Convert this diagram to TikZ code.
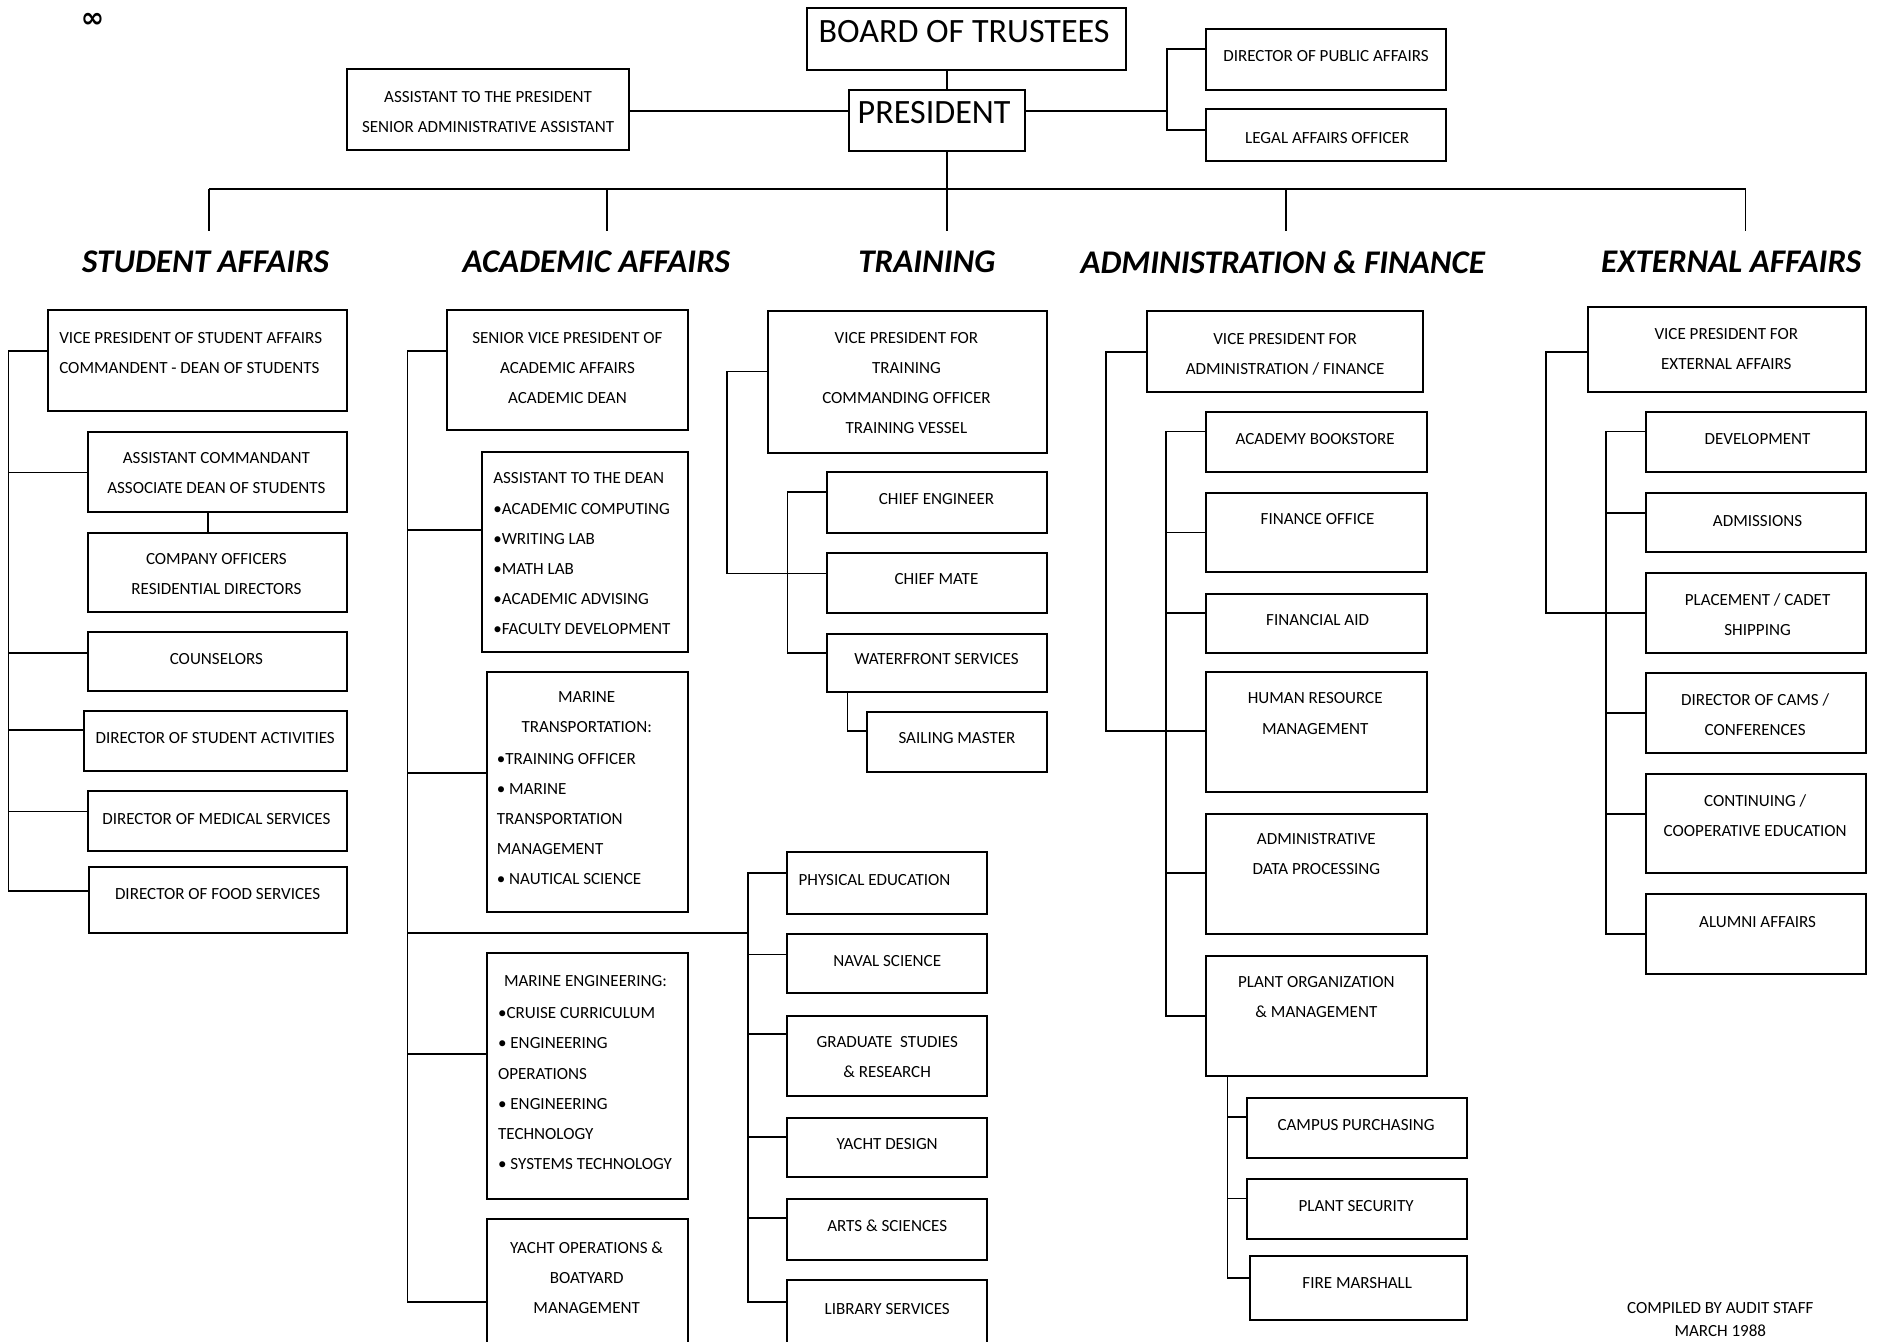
\documentclass[tikz,border=0pt]{standalone}
\usepackage{fontspec}
\setmainfont{Carlito}
\newfontfamily\djv{DejaVu Sans}
\usetikzlibrary{calc}
\tikzset{
  box/.style={draw, line width=1pt, inner sep=0pt, outer sep=0pt},
  lbl/.style={font=\fontsize{8.5}{15}\selectfont, inner sep=0pt, align=center},
  lbll/.style={lbl, align=left},
  big/.style={font=\fontsize{17}{20}\selectfont, inner sep=0pt},
  head/.style={font=\fontsize{16.5}{18}\selectfont\bfseries\itshape, inner sep=0pt},
  conn/.style={line width=0.9pt},
}
\newcommand{\bx}[5]{\node[box, minimum width={(#4-#2)*0.6pt}, minimum height={(#5-#3)*0.6pt}] (#1) at ({(#2+#4)/2},{(#3+#5)/2}) {};}
\begin{document}
\begin{tikzpicture}[x=0.6pt, y=-0.6pt]
\useasboundingbox (0,0) rectangle (1568,1116);
\clip (0,0) rectangle (1568,1116);
\node[font=\djv\bfseries\fontsize{14}{14}\selectfont, inner sep=0pt] (infmark) at (77,17) {∞};
% ---------- top ----------
\bx{board}{671}{7}{937}{58}
\bx{pres}{706}{75}{853}{126}
\bx{asstp}{289}{57}{523}{125}
\bx{dpa}{1003}{24}{1203}{75}
\bx{lao}{1003}{91}{1203}{134}
\node[big] (boardT) at (802,26) {BOARD OF TRUSTEES};
\node[big] (presT) at (777,94) {PRESIDENT};
\node[lbl] (asstpT) at (406,93.5) {ASSISTANT TO THE PRESIDENT\\SENIOR ADMINISTRATIVE ASSISTANT};
\node[lbl] (dpaT) at (1103,47) {DIRECTOR OF PUBLIC AFFAIRS};
\node[lbl] (laoT) at (1104,115) {LEGAL AFFAIRS OFFICER};
\coordinate (tx) at (788,157);
\coordinate (rj) at (971,92);
\coordinate (rj1) at (971,41);
\coordinate (rj2) at (971,108);
\coordinate (lj) at (523,92);
\draw[conn] (tx |- board.south) -- (tx |- pres.north);
\draw[conn] (lj) -- (lj -| pres.west);
\draw[conn] (rj -| pres.east) -- (rj);
\draw[conn] (rj1 -| dpa.west) -- (rj1) -- (rj2) -- (rj2 -| lao.west);
\coordinate (d1) at (174,192);
\coordinate (d2) at (505,192);
\coordinate (d3) at (788,192);
\coordinate (d4) at (1070,192);
\coordinate (d5) at (1452,192);
\draw[conn] (d1 |- tx) -- (d5 |- tx);
\draw[conn] (tx |- pres.south) -- (d3);
\draw[conn] (d1 |- tx) -- (d1);
\draw[conn] (d2 |- tx) -- (d2);
\draw[conn] (d4 |- tx) -- (d4);
\draw[conn] (d5 |- tx) -- (d5);
\node[head] (h1) at (171,218) {STUDENT AFFAIRS};
\node[head] (h2) at (496,218) {ACADEMIC AFFAIRS};
\node[head] (h3) at (771,218) {TRAINING};
\node[head] (h4) at (1067,218) {ADMINISTRATION \& FINANCE};
\node[head] (h5) at (1440,218) {EXTERNAL AFFAIRS};
% ---------- student affairs ----------
\bx{vps}{40}{258}{289}{342}
\bx{acm}{73}{359}{289}{426}
\bx{coff}{73}{443}{289}{509}
\bx{cou}{73}{526}{289}{575}
\bx{dsa}{70}{591}{289}{641}
\bx{dms}{73}{658}{289}{708}
\bx{dfs}{74}{721}{289}{776}
\node[lbll, anchor=west] (vpsT) at (49,293.5) {VICE PRESIDENT OF STUDENT AFFAIRS\\COMMANDENT - DEAN OF STUDENTS};
\node[lbl] (acmT) at (180,393.5) {ASSISTANT COMMANDANT\\ASSOCIATE DEAN OF STUDENTS};
\node[lbl] (coffT) at (180,477.5) {COMPANY OFFICERS\\RESIDENTIAL DIRECTORS};
\node[lbl] (couT) at (180,548) {COUNSELORS};
\node[lbl] (dsaT) at (179,614) {DIRECTOR OF STUDENT ACTIVITIES};
\node[lbl] (dmsT) at (180,681) {DIRECTOR OF MEDICAL SERVICES};
\node[lbl] (dfsT) at (181,744) {DIRECTOR OF FOOD SERVICES};
\coordinate (s1) at (7,292);
\coordinate (s2) at (7,393);
\coordinate (s3) at (7,543);
\coordinate (s4) at (7,607);
\coordinate (s5) at (7,675);
\coordinate (s6) at (7,741);
\draw[conn] (s1 -| vps.west) -- (s1) -- (s6) -- (s6 -| dfs.west);
\draw[conn] (s2) -- (s2 -| acm.west);
\draw[conn] (s3) -- (s3 -| cou.west);
\draw[conn] (s4) -- (s4 -| dsa.west);
\draw[conn] (s5) -- (s5 -| dms.west);
\coordinate (acx) at (173,430);
\draw[conn] (acx |- acm.south) -- (acx |- coff.north);
% ---------- academic affairs ----------
\bx{svp}{372}{258}{572}{358}
\bx{atd}{401}{376}{572}{542}
\bx{mtr}{405}{559}{572}{759}
\bx{men}{405}{793}{572}{997}
\bx{yop}{405}{1014}{572}{1130}
\node[lbl] (svpT) at (472,306) {SENIOR VICE PRESIDENT OF\\ACADEMIC AFFAIRS\\ACADEMIC DEAN};
\node[lbll, anchor=west] (atdT) at (410,460.5) {ASSISTANT TO THE DEAN\\\textbullet ACADEMIC COMPUTING\\\textbullet WRITING LAB\\\textbullet MATH LAB\\\textbullet ACADEMIC ADVISING\\\textbullet FACULTY DEVELOPMENT};
\node[lbl] (mtrA) at (488,592.5) {MARINE\\TRANSPORTATION:};
\node[lbll, anchor=west] (mtrB) at (413,681) {\textbullet TRAINING OFFICER\\\textbullet\ MARINE\\TRANSPORTATION\\MANAGEMENT\\\textbullet\ NAUTICAL SCIENCE};
\node[lbl] (menA) at (487,816) {MARINE ENGINEERING:};
\node[lbll, anchor=west] (menB) at (414,905.5) {\textbullet CRUISE CURRICULUM\\\textbullet\ ENGINEERING\\OPERATIONS\\\textbullet\ ENGINEERING\\TECHNOLOGY\\\textbullet\ SYSTEMS TECHNOLOGY};
\node[lbl] (yopT) at (488,1063) {YACHT OPERATIONS \&\\BOATYARD\\MANAGEMENT};
\bx{pe}{655}{709}{821}{760}
\bx{ns}{655}{777}{821}{826}
\bx{gs}{655}{845}{821}{912}
\bx{yd}{655}{930}{821}{979}
\bx{as}{655}{997}{821}{1048}
\bx{ls}{655}{1065}{821}{1130}
\node[lbl, anchor=west] (peT) at (664,732) {PHYSICAL EDUCATION};
\node[lbl] (nsT) at (738,799) {NAVAL SCIENCE};
\node[lbl] (gsT) at (738,879.5) {GRADUATE\ \ STUDIES\\\& RESEARCH};
\node[lbl] (ydT) at (738,952) {YACHT DESIGN};
\node[lbl] (asT) at (738,1020) {ARTS \& SCIENCES};
\node[lbl] (lsT) at (738,1089) {LIBRARY SERVICES};
\coordinate (a1) at (339,292);
\coordinate (a2) at (339,441);
\coordinate (a3) at (339,643);
\coordinate (a4) at (339,776);
\coordinate (a5) at (339,877);
\coordinate (a6) at (339,1083);
\draw[conn] (a1 -| svp.west) -- (a1) -- (a6) -- (a6 -| yop.west);
\draw[conn] (a2) -- (a2 -| atd.west);
\draw[conn] (a3) -- (a3 -| mtr.west);
\draw[conn] (a5) -- (a5 -| men.west);
\coordinate (b0) at (622,776);
\coordinate (b1) at (622,726);
\coordinate (b2) at (622,794);
\coordinate (b3) at (622,860);
\coordinate (b4) at (622,946);
\coordinate (b5) at (622,1013);
\coordinate (b6) at (622,1083);
\draw[conn] (a4) -- (b0);
\draw[conn] (b1 -| pe.west) -- (b1) -- (b6) -- (b6 -| ls.west);
\draw[conn] (b2) -- (b2 -| ns.west);
\draw[conn] (b3) -- (b3 -| gs.west);
\draw[conn] (b4) -- (b4 -| yd.west);
\draw[conn] (b5) -- (b5 -| as.west);
% ---------- training ----------
\bx{vpt}{639}{259}{871}{377}
\bx{ce}{688}{393}{871}{443}
\bx{cm}{688}{460}{871}{510}
\bx{wf}{688}{527}{871}{576}
\bx{sm}{721}{592}{871}{642}
\node[lbl] (vptT) at (754,318.5) {VICE PRESIDENT FOR\\TRAINING\\COMMANDING OFFICER\\TRAINING VESSEL};
\node[lbl] (ceT) at (779,415) {CHIEF ENGINEER};
\node[lbl] (cmT) at (779,482) {CHIEF MATE};
\node[lbl] (wfT) at (779,548) {WATERFRONT SERVICES};
\node[lbl] (smT) at (796,614) {SAILING MASTER};
\coordinate (t1) at (605,309);
\coordinate (t2) at (605,477);
\draw[conn] (t1 -| vpt.west) -- (t1) -- (t2) -- (t2 -| cm.west);
\coordinate (u1) at (655,409);
\coordinate (u3) at (655,543);
\draw[conn] (u1 -| ce.west) -- (u1) -- (u3) -- (u3 -| wf.west);
\coordinate (w1) at (705,608);
\draw[conn] (w1 |- wf.south) -- (w1) -- (w1 -| sm.west);
% ---------- administration & finance ----------
\bx{vpa}{954}{259}{1184}{326}
\bx{ab}{1003}{343}{1187}{393}
\bx{fo}{1003}{410}{1187}{476}
\bx{fa}{1003}{494}{1187}{543}
\bx{hr}{1003}{559}{1187}{659}
\bx{adp}{1003}{677}{1187}{777}
\bx{po}{1003}{795}{1187}{895}
\bx{cp}{1037}{913}{1220}{963}
\bx{ps}{1037}{981}{1220}{1031}
\bx{fm}{1040}{1045}{1220}{1098}
\node[lbl] (vpaT) at (1069,294.5) {VICE PRESIDENT FOR\\ADMINISTRATION / FINANCE};
\node[lbl] (abT) at (1094,365) {ACADEMY BOOKSTORE};
\node[lbl] (foT) at (1096,432) {FINANCE OFFICE};
\node[lbl] (faT) at (1096,516) {FINANCIAL AID};
\node[lbl] (hrT) at (1094,593.5) {HUMAN RESOURCE\\MANAGEMENT};
\node[lbl] (adpT) at (1095,710.5) {ADMINISTRATIVE\\DATA PROCESSING};
\node[lbl] (poT) at (1095,829.5) {PLANT ORGANIZATION\\\& MANAGEMENT};
\node[lbl] (cpT) at (1128,936) {CAMPUS PURCHASING};
\node[lbl] (psT) at (1128,1003) {PLANT SECURITY};
\node[lbl] (fmT) at (1129,1067) {FIRE MARSHALL};
\coordinate (v1) at (920,293);
\coordinate (v2) at (920,608);
\draw[conn] (v1 -| vpa.west) -- (v1) -- (v2) -- (v2 -| hr.west);
\coordinate (f1) at (970,359);
\coordinate (f2) at (970,443);
\coordinate (f3) at (970,510);
\coordinate (f5) at (970,726);
\coordinate (f6) at (970,845);
\draw[conn] (f1 -| ab.west) -- (f1) -- (f6) -- (f6 -| po.west);
\draw[conn] (f2) -- (f2 -| fo.west);
\draw[conn] (f3) -- (f3 -| fa.west);
\draw[conn] (f5) -- (f5 -| adp.west);
\coordinate (g1) at (1021,929);
\coordinate (g2) at (1021,997);
\coordinate (g3) at (1021,1063);
\draw[conn] (g1 |- po.south) -- (g3) -- (g3 -| fm.west);
\draw[conn] (g1) -- (g1 -| cp.west);
\draw[conn] (g2) -- (g2 -| ps.west);
% ---------- external affairs ----------
\bx{vpe}{1321}{255}{1552}{326}
\bx{dev}{1369}{343}{1552}{393}
\bx{adm}{1369}{410}{1552}{459}
\bx{pl}{1369}{477}{1552}{543}
\bx{cams}{1369}{560}{1552}{626}
\bx{cont}{1369}{644}{1552}{726}
\bx{alu}{1369}{744}{1552}{810}
\node[lbl] (vpeT) at (1436,290.5) {VICE PRESIDENT FOR\\EXTERNAL AFFAIRS};
\node[lbl] (devT) at (1462,365) {DEVELOPMENT};
\node[lbl] (admT) at (1462,433) {ADMISSIONS};
\node[lbl] (plT) at (1462,511.5) {PLACEMENT / CADET\\SHIPPING};
\node[lbl] (camsT) at (1460,594.5) {DIRECTOR OF CAMS /\\CONFERENCES};
\node[lbl] (contT) at (1460,678.5) {CONTINUING /\\COOPERATIVE EDUCATION};
\node[lbl] (aluT) at (1462,767) {ALUMNI AFFAIRS};
\coordinate (e1) at (1286,293);
\coordinate (e2) at (1286,510);
\draw[conn] (e1 -| vpe.west) -- (e1) -- (e2) -- (e2 -| pl.west);
\coordinate (x1) at (1336,359);
\coordinate (x2) at (1336,427);
\coordinate (x4) at (1336,593);
\coordinate (x5) at (1336,677);
\coordinate (x6) at (1336,777);
\draw[conn] (x1 -| dev.west) -- (x1) -- (x6) -- (x6 -| alu.west);
\draw[conn] (x2) -- (x2 -| adm.west);
\draw[conn] (x4) -- (x4 -| cams.west);
\draw[conn] (x5) -- (x5 -| cont.west);
% ---------- footer ----------
\node[lbl] (comp) at (1431,1088) {COMPILED BY AUDIT STAFF};
\node[lbl] (march) at (1431,1107) {MARCH 1988};
\end{tikzpicture}
\end{document}
